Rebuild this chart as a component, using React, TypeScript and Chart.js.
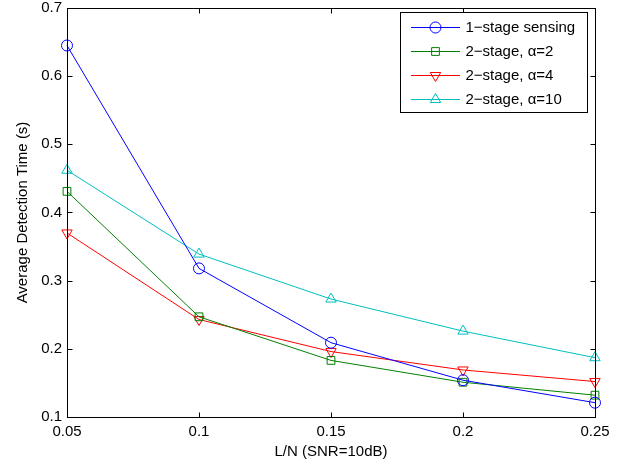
import React, { useEffect, useRef } from "react";
import { Chart, registerables } from "chart.js";

Chart.register(...registerables);

const xValues = [0.05, 0.1, 0.15, 0.2, 0.25];
const xTickLabels = ["0.05", "0.1", "0.15", "0.2", "0.25"];
const yTicks = [0.1, 0.2, 0.3, 0.4, 0.5, 0.6, 0.7];

const oneStage = [0.645, 0.318, 0.209, 0.154, 0.121];
const twoStageA2 = [0.431, 0.247, 0.183, 0.151, 0.132];
const twoStageA4 = [0.370, 0.243, 0.196, 0.169, 0.152];
const twoStageA10 = [0.462, 0.339, 0.273, 0.226, 0.187];

const seriesNames = ["1\u2212stage sensing", "2\u2212stage, \u03b1=2", "2\u2212stage, \u03b1=4", "2\u2212stage, \u03b1=10"];
const seriesColors = ["#0000ff", "#008000", "#ff0000", "#00bfbf"];
const seriesMarkers = ["circle", "rect", "triangle", "triangle"];
const seriesRotation = [0, 0, 180, 0];
const seriesRadius = [5.5, 5.5, 6, 6];

const FONT = "'Liberation Sans', Arial, Helvetica, sans-serif";

function drawMarker(ctx: CanvasRenderingContext2D, style: string, x: number, y: number, r: number, rot: number) {
  ctx.beginPath();
  if (style === "circle") {
    ctx.arc(x, y, r, 0, Math.PI * 2);
  } else if (style === "rect") {
    const s = Math.SQRT1_2 * r;
    ctx.rect(x - s, y - s, 2 * s, 2 * s);
  } else {
    const rad = (rot * Math.PI) / 180;
    for (let i = 0; i < 3; i++) {
      const a = rad + (i * 2 * Math.PI) / 3;
      const px = x + Math.sin(a) * r;
      const py = y - Math.cos(a) * r;
      if (i === 0) ctx.moveTo(px, py);
      else ctx.lineTo(px, py);
    }
    ctx.closePath();
  }
  ctx.stroke();
}

const framePlugin = {
  id: "frame",
  afterDraw(chart: any) {
    const ctx = chart.ctx as CanvasRenderingContext2D;
    const { left, right, top, bottom } = chart.chartArea;
    const xs = chart.scales.x;
    const ys = chart.scales.y;
    ctx.save();
    ctx.strokeStyle = "#000";
    ctx.lineWidth = 1;
    const L = Math.round(left) + 0.5;
    const R = Math.round(right) + 0.5;
    const T = Math.round(top) + 0.5;
    const B = Math.round(bottom) + 0.5;
    ctx.strokeRect(L, T, R - L, B - T);
    const tl = 5;
    ctx.beginPath();
    xValues.forEach((v) => {
      const px = Math.round(xs.getPixelForValue(v)) + 0.5;
      ctx.moveTo(px, B);
      ctx.lineTo(px, B - tl);
      ctx.moveTo(px, T);
      ctx.lineTo(px, T + tl);
    });
    yTicks.forEach((v) => {
      const py = Math.round(ys.getPixelForValue(v)) + 0.5;
      ctx.moveTo(L, py);
      ctx.lineTo(L + tl, py);
      ctx.moveTo(R, py);
      ctx.lineTo(R - tl, py);
    });
    ctx.stroke();

    // legend
    const bx = Math.round(right) - 195 + 0.5;
    const by = Math.round(top) + 4 + 0.5;
    const bw = 187;
    const bh = 100;
    ctx.fillStyle = "#fff";
    ctx.fillRect(bx, by, bw, bh);
    ctx.strokeStyle = "#000";
    ctx.strokeRect(bx, by, bw, bh);
    ctx.font = "15px " + FONT;
    ctx.textBaseline = "middle";
    ctx.textAlign = "left";
    seriesNames.forEach((name, i) => {
      const ry = Math.round(by + 14 + i * 24);
      ctx.fillStyle = seriesColors[i];
      ctx.fillRect(Math.round(bx + 10), ry, 49, 1);
      ctx.strokeStyle = seriesColors[i];
      ctx.lineWidth = 1;
      drawMarker(ctx, seriesMarkers[i], bx + 35, ry + 0.5, seriesRadius[i], seriesRotation[i]);
      ctx.fillStyle = "#000";
      ctx.fillText(name, bx + 65, ry + 1);
    });
    ctx.restore();
  },
};

export default function App() {
  const ref = useRef<HTMLCanvasElement>(null);
  useEffect(() => {
    if (!ref.current) return;
    const allSeries = [oneStage, twoStageA2, twoStageA4, twoStageA10];
    const chart = new Chart(ref.current, {
      type: "line",
      data: {
        datasets: allSeries.map((vals, i) => ({
          label: seriesNames[i],
          data: vals.map((v, j) => ({ x: xValues[j], y: v })),
          borderColor: seriesColors[i],
          backgroundColor: "rgba(0,0,0,0)",
          borderWidth: 1,
          pointStyle: seriesMarkers[i] as any,
          pointRotation: seriesRotation[i],
          pointRadius: seriesRadius[i],
          pointBorderWidth: 1,
          pointBorderColor: seriesColors[i],
          pointBackgroundColor: "rgba(0,0,0,0)",
          tension: 0,
          fill: false,
          clip: 8,
        })),
      },
      options: {
        animation: false,
        responsive: false,
        maintainAspectRatio: false,
        layout: { padding: { left: 0, top: 8, right: 40, bottom: 0 } },
        plugins: { legend: { display: false }, tooltip: { enabled: false } },
        scales: {
          x: {
            type: "linear",
            min: 0.05,
            max: 0.25,
            grid: { display: false, drawTicks: false },
            border: { display: false },
            afterBuildTicks: (scale: any) => {
              scale.ticks = xValues.map((v) => ({ value: v }));
            },
            afterFit: (scale: any) => {
              scale.height = 48;
              scale.paddingLeft = 0;
              scale.paddingRight = 0;
            },
            ticks: {
              color: "#000",
              font: { family: FONT, size: 15 },
              padding: 6,
              maxRotation: 0,
              autoSkip: false,
              callback: (v: any, i: number) => xTickLabels[i],
            },
            title: {
              display: true,
              text: "L/N (SNR=10dB)",
              color: "#000",
              font: { family: FONT, size: 15 },
              padding: { top: 0, bottom: 4 },
            },
          },
          y: {
            type: "linear",
            min: 0.1,
            max: 0.7,
            grid: { display: false, drawTicks: false },
            border: { display: false },
            afterBuildTicks: (scale: any) => {
              scale.ticks = yTicks.map((v) => ({ value: v }));
            },
            afterFit: (scale: any) => {
              scale.width = 67;
              scale.paddingTop = 0;
              scale.paddingBottom = 0;
            },
            ticks: {
              color: "#000",
              font: { family: FONT, size: 15 },
              padding: 5,
              autoSkip: false,
              callback: (v: any) => Number(v).toFixed(1),
            },
            title: {
              display: true,
              text: "Average Detection Time (s)",
              color: "#000",
              font: { family: FONT, size: 15 },
              padding: { top: 14, bottom: 0 },
            },
          },
        },
      },
      plugins: [framePlugin],
    });
    return () => chart.destroy();
  }, []);
  return (
    <div style={{ position: "fixed", left: 0, top: 0, width: 635, height: 465, background: "#fff" }}>
      <canvas ref={ref} width={635} height={465} style={{ display: "block", width: 635, height: 465 }} />
    </div>
  );
}
